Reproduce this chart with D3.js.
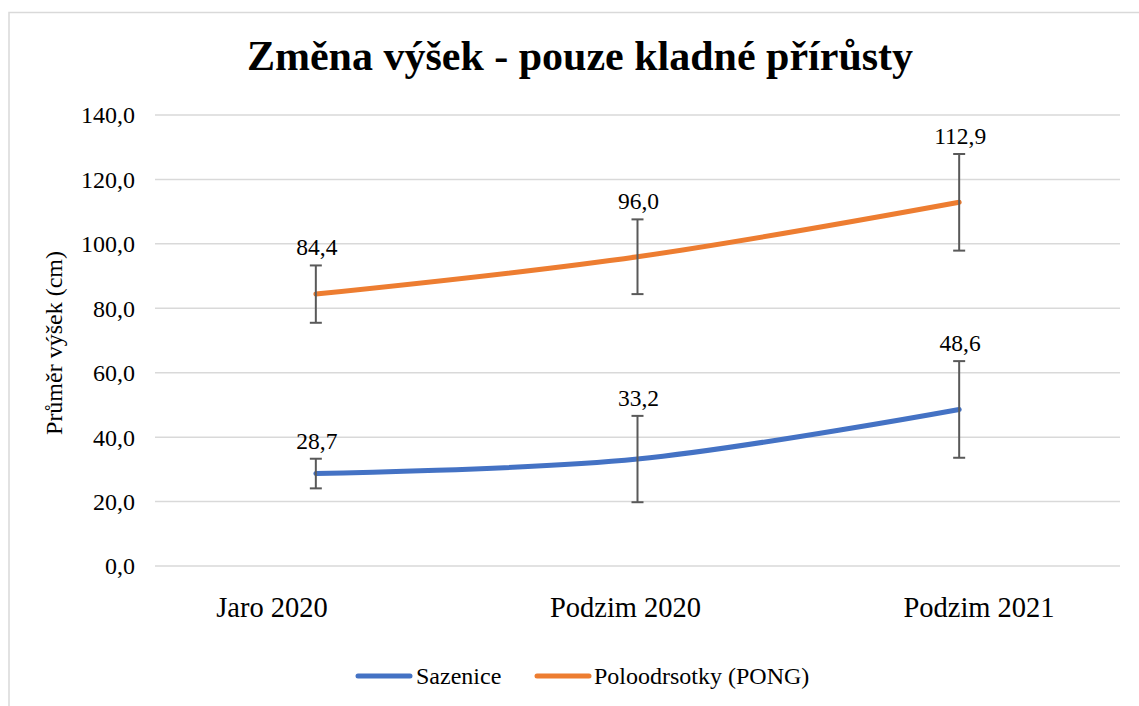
<!DOCTYPE html>
<html><head><meta charset="utf-8">
<script src="https://cdn.jsdelivr.net/npm/d3@7"></script>
<style>html,body{margin:0;padding:0;background:#fff;}svg{display:block;font-family:"Liberation Serif","Times New Roman",serif;}</style>
</head><body>
<svg id="c" width="1139" height="706"></svg>
<script>
const title = "Změna výšek - pouze kladné přírůsty";
const yTitle = "Průměr výšek (cm)";
const categories = ["Jaro 2020", "Podzim 2020", "Podzim 2021"];
const seriesNames = ["Sazenice", "Poloodrsotky (PONG)"];
const sazenice = [28.7, 33.2, 48.6];
const sazeniceErr = [4.6, 13.4, 15.0];
const pong = [84.4, 96.0, 112.9];
const pongErr = [8.9, 11.6, 15.0];
const yTicks = [0, 20, 40, 60, 80, 100, 120, 140];
const colors = ["#4472C4", "#ED7D31"];

const series = [
  {name: seriesNames[0], values: sazenice, err: sazeniceErr, color: colors[0]},
  {name: seriesNames[1], values: pong, err: pongErr, color: colors[1]}
];

const svg = d3.select("#c");
const W = 1139, H = 706;
const m = {left: 155, right: 1120, top: 115, bottom: 566};

// chart border
svg.append("rect").attr("x", 9).attr("y", 12.5).attr("width", 1200).attr("height", 800)
  .attr("fill", "none").attr("stroke", "#d9d9d9").attr("stroke-width", 1.5);

const y = d3.scaleLinear().domain([0, 140]).range([m.bottom, m.top]);
const x = d3.scaleBand().domain(categories).range([m.left, m.right]);
const cx = d => x(d) + x.bandwidth() / 2;
const xLab = d3.scalePoint().domain(categories).range([272, 979]);

// gridlines
svg.append("g").selectAll("line").data(yTicks).join("line")
  .attr("x1", m.left).attr("x2", m.right)
  .attr("y1", d => y(d)).attr("y2", d => y(d))
  .attr("stroke", "#d9d9d9").attr("stroke-width", 1.5);

// y axis labels
const fmt = d => d3.format(".1f")(d).replace(".", ",");
svg.append("g").selectAll("text").data(yTicks).join("text")
  .attr("x", 135).attr("y", d => y(d)).attr("dy", "0.35em")
  .attr("text-anchor", "end").attr("font-size", 24).attr("fill", "#000")
  .text(fmt);

// x labels
svg.append("g").selectAll("text").data(categories).join("text")
  .attr("x", d => xLab(d)).attr("y", 617)
  .attr("text-anchor", "middle").attr("font-size", 28.5).attr("fill", "#000")
  .text(d => d);

// y title
svg.append("text").attr("transform", "translate(62,343) rotate(-90)")
  .attr("text-anchor", "middle").attr("font-size", 24).attr("fill", "#000")
  .text(yTitle);

// title
svg.append("text").attr("x", 580).attr("y", 69.5).attr("text-anchor", "middle")
  .attr("font-size", 42).attr("font-weight", "bold").attr("fill", "#000").text(title);

// lines
const line = d3.line().x(d => cx(d.c)).y(d => y(d.v)).curve(d3.curveCatmullRom.alpha(0));
series.forEach(s => {
  const pts = categories.map((c, i) => ({c, v: s.values[i], e: s.err[i]}));
  svg.append("path").datum(pts).attr("d", line).attr("fill", "none")
    .attr("stroke", s.color).attr("stroke-width", 5).attr("stroke-linecap", "round");
});

// error bars and labels
series.forEach(s => {
  const pts = categories.map((c, i) => ({c, v: s.values[i], e: s.err[i]}));
  const g = svg.append("g").attr("stroke", "#595959").attr("stroke-width", 2);
  g.selectAll(".v").data(pts).join("line")
    .attr("x1", d => cx(d.c)).attr("x2", d => cx(d.c))
    .attr("y1", d => y(d.v + d.e)).attr("y2", d => y(d.v - d.e));
  [1, -1].forEach(sign => {
    g.selectAll(".cap" + sign).data(pts).join("line")
      .attr("x1", d => cx(d.c) - 6).attr("x2", d => cx(d.c) + 6)
      .attr("y1", d => y(d.v + sign * d.e)).attr("y2", d => y(d.v + sign * d.e));
  });
  svg.append("g").selectAll("text").data(pts).join("text")
    .attr("x", d => cx(d.c) + 1).attr("y", d => y(d.v + d.e) - 10)
    .attr("text-anchor", "middle").attr("font-size", 23.5).attr("fill", "#000")
    .text(d => fmt(d.v));
});

// legend
const leg = [{x: 356, tx: 416}, {x: 535, tx: 594}];
series.forEach((s, i) => {
  svg.append("line").attr("x1", leg[i].x + 2).attr("x2", leg[i].x + 54)
    .attr("y1", 676).attr("y2", 676).attr("stroke", s.color)
    .attr("stroke-width", 5).attr("stroke-linecap", "round");
  svg.append("text").attr("x", leg[i].tx).attr("y", 684).attr("font-size", 24)
    .attr("fill", "#000").text(s.name);
});
</script>
</body></html>
